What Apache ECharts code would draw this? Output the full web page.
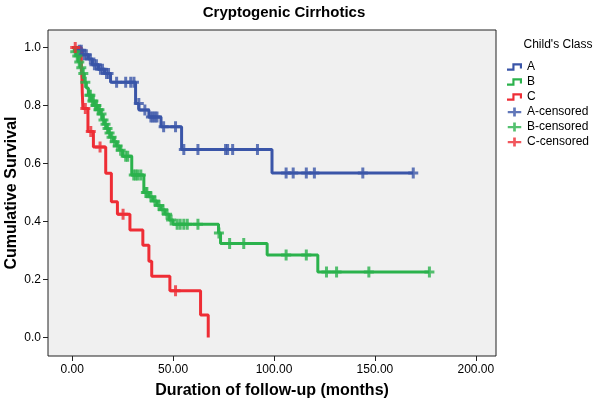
<!DOCTYPE html>
<html>
<head>
<meta charset="utf-8">
<script src="https://cdn.jsdelivr.net/npm/echarts@6/dist/echarts.min.js"></script>
<style>html,body{margin:0;padding:0;background:#fff}#c{width:600px;height:406px}</style>
</head>
<body>
<div id="c"></div>
<script>
// ---- data ----
const xTicks = [0, 50, 100, 150, 200];
const yTicks = [0, 0.2, 0.4, 0.6, 0.8, 1.0];

const aTimes = [0, 2, 5, 8, 10, 13, 16, 19, 31.4, 33, 38, 44, 54.2, 99];
const aSurv  = [1.0, 0.99, 0.975, 0.96, 0.94, 0.925, 0.91, 0.88, 0.807, 0.784, 0.76, 0.726, 0.648, 0.567];
const aEnd = 169;
const aCensT = [3.5, 4.5, 6, 7, 9, 11, 12, 14, 15, 17, 18, 22, 26.5, 29, 30.6, 33, 36, 39, 40, 41, 42, 45.3, 51.2, 55.3, 62.3, 76, 77, 79.5, 91.8, 106, 109.5, 116, 120, 144, 169];
const aCensS = [0.99, 0.99, 0.975, 0.975, 0.96, 0.94, 0.94, 0.925, 0.925, 0.91, 0.91, 0.88, 0.88, 0.88, 0.88, 0.807, 0.784, 0.76, 0.76, 0.76, 0.76, 0.726, 0.726, 0.648, 0.648, 0.648, 0.648, 0.648, 0.648, 0.567, 0.567, 0.567, 0.567, 0.567, 0.567];

const bTimes = [0, 1, 2, 3, 4, 5, 6, 7, 8, 9.5, 11, 12.5, 14, 15, 16, 17, 18, 19, 20.5, 22, 23.5, 25, 29.5, 35.5, 38, 40, 42, 44, 46, 48, 50, 72.5, 73.5, 96.6, 121.7];
const bSurv  = [1.0, 0.985, 0.97, 0.95, 0.93, 0.91, 0.88, 0.86, 0.835, 0.815, 0.80, 0.785, 0.77, 0.75, 0.735, 0.72, 0.705, 0.69, 0.675, 0.66, 0.645, 0.625, 0.56, 0.50, 0.485, 0.47, 0.455, 0.44, 0.425, 0.405, 0.39, 0.36, 0.324, 0.284, 0.226];
const bEnd = 177;
const bCensT = [1.5, 2.5, 3.5, 4.5, 5.5, 6.5, 8.5, 9, 10, 10.5, 11.5, 12, 13, 13.5, 14.5, 15.5, 16.5, 17.5, 18.5, 19.5, 21, 22.5, 24, 26.5, 27.5, 30.5, 31.5, 32.5, 34, 36.5, 37, 39, 41, 43, 45, 47, 49, 52, 53.5, 55.3, 57, 62.3, 72.7, 78, 85, 106, 116, 126, 131, 147, 177];
const bCensS = [0.985, 0.97, 0.95, 0.93, 0.91, 0.88, 0.835, 0.835, 0.815, 0.815, 0.80, 0.80, 0.785, 0.785, 0.77, 0.75, 0.735, 0.72, 0.705, 0.69, 0.675, 0.66, 0.645, 0.625, 0.625, 0.56, 0.56, 0.56, 0.56, 0.50, 0.50, 0.485, 0.47, 0.455, 0.44, 0.425, 0.405, 0.39, 0.39, 0.39, 0.39, 0.39, 0.36, 0.324, 0.324, 0.284, 0.284, 0.226, 0.226, 0.226, 0.226];

const cTimes = [0, 4.5, 4.8, 5.0, 5.3, 7.8, 10.5, 16.6, 19.4, 22.4, 28.6, 35, 38, 39.4, 48.4, 63.6, 67.4];
const cSurv  = [1.0, 0.947, 0.895, 0.842, 0.789, 0.71, 0.657, 0.566, 0.468, 0.425, 0.37, 0.318, 0.263, 0.211, 0.161, 0.077, 0.0];
const cEnd = 67.4;
const cCensT = [1.5, 6.5, 9.2, 13.8, 25.2, 51.2];
const cCensS = [1.0, 0.789, 0.71, 0.657, 0.425, 0.161];

const names = ['A', 'B', 'C', 'A-censored', 'B-censored', 'C-censored'];
const colors = ['#3a55a8', '#2bb24c', '#ee2d35'];

// ---- build ----
function steps(t, s, end) {
  const d = t.map((v, i) => [v, s[i]]);
  if (end > t[t.length - 1]) d.push([end, s[s.length - 1]]);
  return d;
}
function pts(t, s) { return t.map((v, i) => [v, s[i]]); }

const plusSym = 'path://M3.5,0H6.5V4H10V7H6.5V11H3.5V7H0V4H3.5Z';
const stepIcon = 'path://M0,5L5,5L5,0L14,0L14,5L12,5L12,2L7,2L7,7L0,7Z';
const legPlus = 'path://M6,0H9V4H15V6.5H9V10H6V6.5H0V4H6Z';

function lineSeries(name, data, color) {
  return { name, type: 'line', step: 'end', data, showSymbol: false, symbol: 'none',
    lineStyle: { width: 3, color }, itemStyle: { color }, animation: false, z: 2 };
}
function censSeries(name, data, color) {
  return { name, type: 'scatter', data, symbol: plusSym, symbolSize: [10, 11],
    itemStyle: { color }, animation: false, z: 3 };
}

const chart = echarts.init(document.getElementById('c'), null, { renderer: 'canvas' });
const FONT = 'Liberation Sans, Arial, sans-serif';
chart.setOption({
  backgroundColor: '#ffffff',
  textStyle: { fontFamily: FONT },
  graphic: [
    { type: 'text', x: 284, y: 13, style: { text: 'Cryptogenic Cirrhotics', font: 'bold 15px ' + FONT, fill: '#000', textAlign: 'center', textVerticalAlign: 'middle' } },
    { type: 'text', x: 558, y: 45, style: { text: "Child's Class", font: '12px ' + FONT, fill: '#000', textAlign: 'center', textVerticalAlign: 'middle' } }
  ],
  grid: { left: 48, top: 30, right: 104, bottom: 50, show: true, backgroundColor: '#f0f0f0', borderColor: '#222', borderWidth: 1, containLabel: false, outerBoundsMode: 'none' },
  legend: {
    orient: 'vertical', left: 502, top: 56, itemWidth: 15, itemHeight: 9, itemGap: 3,
    textStyle: { fontSize: 12, color: '#000', fontFamily: FONT },
    data: [
      { name: 'A', icon: stepIcon }, { name: 'B', icon: stepIcon }, { name: 'C', icon: stepIcon },
      { name: 'A-censored', icon: legPlus }, { name: 'B-censored', icon: legPlus }, { name: 'C-censored', icon: legPlus }
    ]
  },
  xAxis: {
    type: 'value', min: -12, max: 210,
    name: 'Duration of follow-up (months)', nameLocation: 'middle', nameGap: 27, nameMoveOverlap: false,
    nameTextStyle: { fontSize: 16, fontWeight: 'bold', color: '#000', fontFamily: FONT },
    axisLine: { show: false, onZero: false },
    axisTick: { show: true, length: 5, lineStyle: { color: '#222' }, customValues: xTicks },
    axisLabel: { customValues: xTicks, formatter: v => v.toFixed(2), fontSize: 12, color: '#000', margin: 8 },
    splitLine: { show: false }
  },
  yAxis: {
    type: 'value', min: -0.064, max: 1.06,
    name: 'Cumulative Survival', nameLocation: 'middle', nameGap: 28, nameRotate: 90, nameMoveOverlap: false,
    nameTextStyle: { fontSize: 16, fontWeight: 'bold', color: '#000', fontFamily: FONT },
    axisLine: { show: false, onZero: false },
    axisTick: { show: true, length: 5, lineStyle: { color: '#222' }, customValues: yTicks },
    axisLabel: { customValues: yTicks, formatter: v => v.toFixed(1), fontSize: 12, color: '#000', margin: 7 },
    splitLine: { show: false }
  },
  series: [
    lineSeries('A', steps(aTimes, aSurv, aEnd), colors[0]),
    lineSeries('B', steps(bTimes, bSurv, bEnd), colors[1]),
    lineSeries('C', steps(cTimes, cSurv, cEnd), colors[2]),
    censSeries('A-censored', pts(aCensT, aCensS), colors[0]),
    censSeries('B-censored', pts(bCensT, bCensS), colors[1]),
    censSeries('C-censored', pts(cCensT, cCensS), colors[2])
  ]
});
</script>
</body>
</html>
